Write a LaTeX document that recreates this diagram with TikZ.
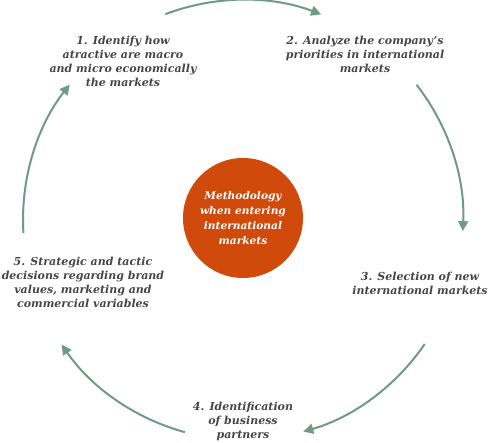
\documentclass[tikz,border=0pt]{standalone}
\usepackage{fontspec}
\setmainfont{DejaVu Serif}
\usetikzlibrary{arrows.meta,calc}
\definecolor{arrowc}{HTML}{6E9A88}
\definecolor{orangec}{HTML}{D04A0C}
\definecolor{textc}{HTML}{454545}
\tikzset{
  lbl/.style={text=textc, align=center, font=\fontsize{11}{14}\selectfont\bfseries\itshape, inner sep=0pt},
  cyc/.style={draw=arrowc, line width=2pt, -{Triangle[length=10pt,width=10pt]}},
}
\begin{document}
\begin{tikzpicture}[x=1pt,y=1pt]
\useasboundingbox (0,0) rectangle (489,443);
\coordinate (C) at (243,223);
\node[circle, fill=orangec, minimum size=120pt, inner sep=0pt] (hub) at (243,225) {};
\node[align=center, text=white, font=\fontsize{10.6}{14.8}\selectfont\bfseries\itshape, inner sep=0pt] (hubtxt) at (hub.center) {Methodology\\when entering\\international\\markets};
\node[lbl] (s1) at (123,382) {1. Identify how\\atractive are macro\\and micro economically\\the markets};
\node[lbl] (s2) at (365,389) {2. Analyze the company’s\\priorities in international\\markets};
\node[lbl] (s3) at (420,160) {3. Selection of new\\international markets};
\node[lbl] (s4) at (243,22) {4. Identification\\of business\\partners};
\node[lbl] (s5) at (83,161) {5. Strategic and tactic\\decisions regarding brand\\values, marketing and\\commercial variables};
\coordinate (a1) at ($(C)+(110.7:220)$);
\coordinate (a2) at ($(C)+(37.9:220)$);
\coordinate (a3) at ($(C)+(-34.3:220)$);
\coordinate (a4) at ($(C)+(-105.3:220)$);
\coordinate (a5) at ($(C)+(183.4:220)$);
\draw[cyc] (a1) arc[start angle=110.7, end angle=69.2, radius=220];
\draw[cyc] (a2) arc[start angle=37.9, end angle=-2.9, radius=220];
\draw[cyc] (a3) arc[start angle=-34.3, end angle=-74.1, radius=220];
\draw[cyc] (a4) arc[start angle=-105.3, end angle=-145.5, radius=220];
\draw[cyc] (a5) arc[start angle=183.4, end angle=142.0, radius=220];
\end{tikzpicture}
\end{document}
